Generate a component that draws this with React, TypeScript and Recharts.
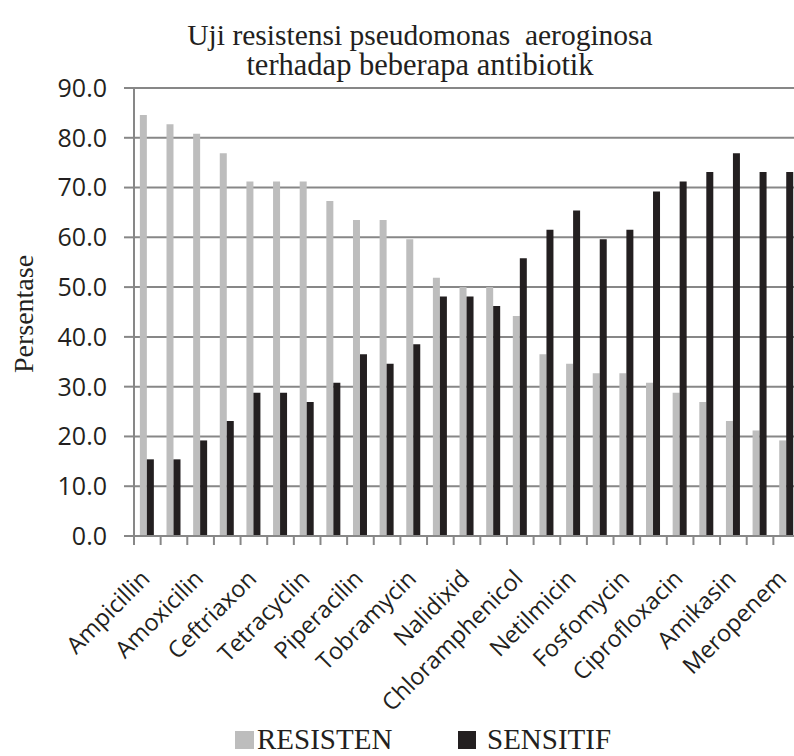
import React from "react";
import {
  BarChart,
  Bar,
  XAxis,
  YAxis,
  CartesianGrid,
} from "recharts";

const tickLabels = [
  "Ampicillin",
  "Amoxicilin",
  "Ceftriaxon",
  "Tetracyclin",
  "Piperacilin",
  "Tobramycin",
  "Nalidixid",
  "Chloramphenicol",
  "Netilmicin",
  "Fosfomycin",
  "Ciprofloxacin",
  "Amikasin",
  "Meropenem",
];

const resisten = [
  84.6, 82.7, 80.8, 76.9, 71.2, 71.2, 71.2, 67.3, 63.5, 63.5, 59.6, 51.9, 50.0,
  50.0, 44.2, 36.5, 34.6, 32.7, 32.7, 30.8, 28.8, 26.9, 23.1, 21.2, 19.2,
];

const sensitif = [
  15.4, 15.4, 19.2, 23.1, 28.8, 28.8, 26.9, 30.8, 36.5, 34.6, 38.5, 48.1, 48.1,
  46.2, 55.8, 61.5, 65.4, 59.6, 61.5, 69.2, 71.2, 73.1, 76.9, 73.1, 73.1,
];

const yTicks = [0, 10, 20, 30, 40, 50, 60, 70, 80, 90];

const series = [
  { key: "resisten", name: "RESISTEN", color: "#bdbdbd" },
  { key: "sensitif", name: "SENSITIF", color: "#231f20" },
];

// only every other category carries a label in the picture
const data = resisten.map((r, i) => ({
  key: i,
  name: i % 2 === 0 ? tickLabels[i / 2] : "",
  resisten: r,
  sensitif: sensitif[i],
}));

const LEFT = 134;
const WIDTH = 800;
const HALF = (WIDTH - LEFT) / data.length / 2;
const AXIS = "#878787";
const INK = "#231f20";

function CategoryTick(props: any) {
  const { x, y, payload } = props;
  const row = data[payload.value] || data[payload.index];
  const label = row ? row.name : "";
  // keep the last label inside the page edge
  const lx = Math.min(x + 4, 788);
  const ly = y + 44;
  return (
    <g>
      <line
        x1={x - HALF}
        x2={x - HALF}
        y1={y}
        y2={y + 9}
        stroke={AXIS}
        strokeWidth={2}
      />
      {label && (
        <text
          x={lx}
          y={ly}
          transform={`rotate(-45, ${lx}, ${ly})`}
          textAnchor="end"
          fontFamily="'Open Sans', sans-serif"
          fontSize={23.5}
          fill={INK}
        >
          {label}
        </text>
      )}
    </g>
  );
}

export default function App() {
  return (
    <div
      style={{
        position: "absolute",
        left: 0,
        top: 0,
        width: 794,
        height: 756,
        overflow: "hidden",
        background: "#fff",
      }}
    >
      <BarChart
        width={WIDTH}
        height={756}
        data={data}
        margin={{ top: 88, right: 0, bottom: 0, left: 0 }}
        barCategoryGap="22%"
        barGap={0}
      >
        <CartesianGrid vertical={false} stroke={AXIS} strokeWidth={2} />
        <XAxis
          dataKey="key"
          type="category"
          height={220}
          axisLine={{ stroke: AXIS, strokeWidth: 2 }}
          tickLine={false}
          tickSize={0}
          tickMargin={0}
          interval={0}
          tick={<CategoryTick />}
        />
        <YAxis
          width={LEFT}
          domain={[0, 90]}
          ticks={yTicks}
          interval={0}
          tickFormatter={(v: number) => v.toFixed(1)}
          axisLine={{ stroke: AXIS, strokeWidth: 2 }}
          tickLine={{ stroke: AXIS, strokeWidth: 2 }}
          tickSize={10}
          tickMargin={17}
          tick={{
            fontFamily: "'Open Sans', sans-serif",
            fontSize: 25,
            fill: INK,
          }}
        />
        {series.map((s) => (
          <Bar
            key={s.key}
            dataKey={s.key}
            name={s.name}
            fill={s.color}
            isAnimationActive={false}
          />
        ))}
      </BarChart>
      <svg
        width={794}
        height={756}
        style={{ position: "absolute", left: 0, top: 0, pointerEvents: "none" }}
      >
        <g
          fontFamily="'Liberation Serif', serif"
          fill={INK}
          textAnchor="middle"
        >
          <text x={420} y={45} fontSize={29.5}>
            Uji resistensi pseudomonas&#160; aeroginosa
          </text>
          <text x={420} y={75} fontSize={30.5}>
            terhadap beberapa antibiotik
          </text>
          <text
            x={33}
            y={314}
            fontSize={28}
            transform="rotate(-90, 33, 314)"
          >
            Persentase
          </text>
        </g>
        <g fontFamily="'Liberation Serif', serif" fill={INK} fontSize={29}>
          <rect x={235} y={731} width={19} height={18} fill={series[0].color} />
          <text x={257} y={749}>
            {series[0].name}
          </text>
          <rect x={458} y={731} width={18} height={18} fill={series[1].color} />
          <text x={487} y={749}>
            {series[1].name}
          </text>
        </g>
      </svg>
    </div>
  );
}
